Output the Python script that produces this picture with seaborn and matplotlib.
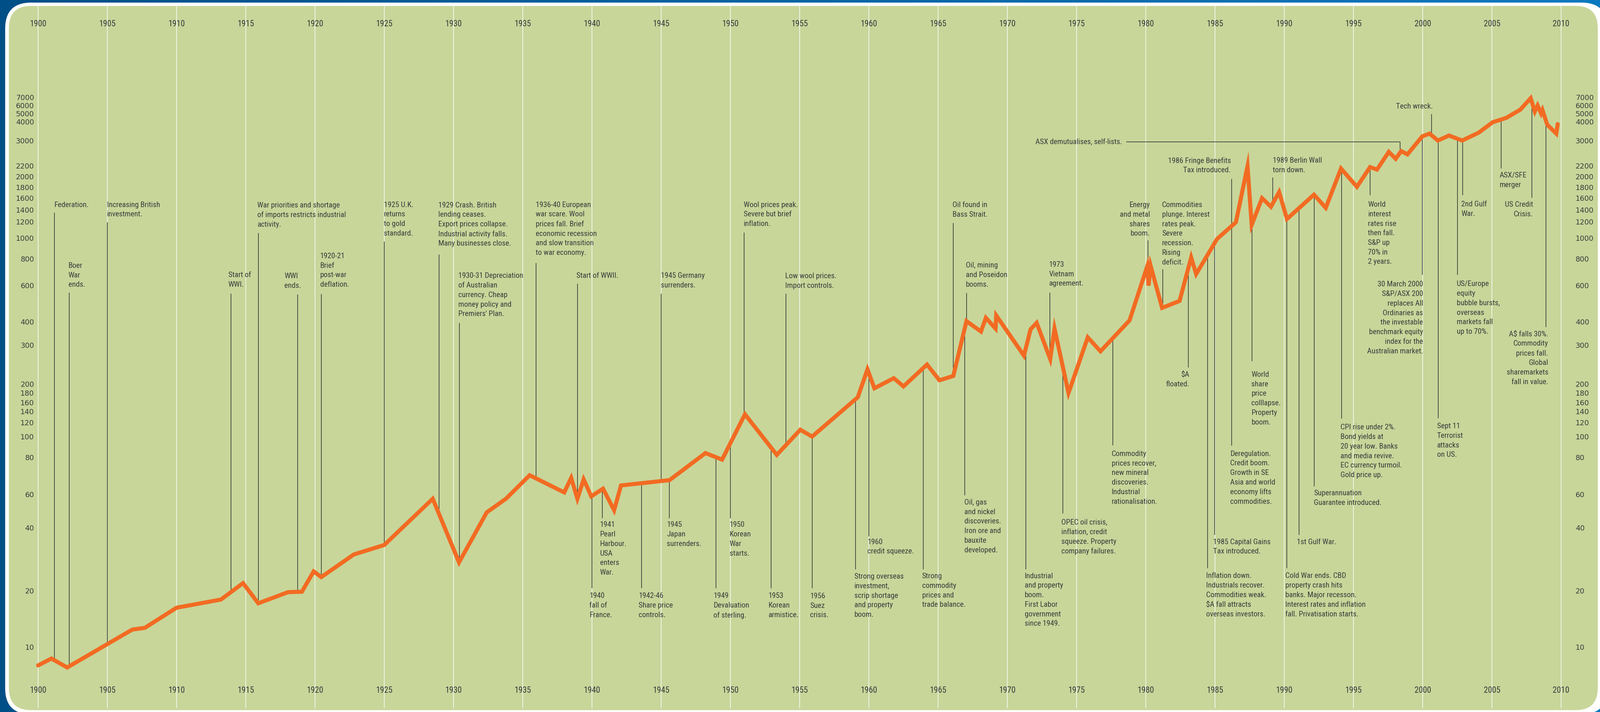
import numpy as np
import pandas as pd
import seaborn as sns
import matplotlib
matplotlib.use('Agg')
import matplotlib.pyplot as plt
from matplotlib import font_manager as fm
from matplotlib.patches import FancyBboxPatch
from matplotlib.colors import LinearSegmentedColormap
from matplotlib.ticker import NullLocator

sns.set_theme(style="white")
plt.rcParams['font.family'] = ['DejaVu Sans']

W, H, DPI = 4322, 1922, 100

# share index (approximate)
years = [1900.0, 1900.96, 1902.1, 1906.8, 1907.7, 1910.0, 1913.2, 1914.8, 1915.9,
         1918.05, 1919.05, 1919.9, 1920.45, 1922.8, 1925.0, 1928.5, 1930.4, 1932.4,
         1933.8, 1935.5, 1938.0, 1938.5, 1938.95, 1939.4, 1939.95, 1940.8, 1941.6,
         1942.1, 1945.6, 1948.2, 1949.4, 1951.05, 1953.35, 1955.05, 1955.9, 1959.2,
         1959.9, 1960.4, 1961.8, 1962.5, 1964.2, 1965.1, 1966.1, 1967.05, 1968.1,
         1968.45, 1969.15, 1969.2, 1971.2, 1971.68, 1972.12, 1973.1, 1973.41,
         1974.42, 1975.81, 1976.73, 1978.83, 1980.1, 1980.2, 1980.35, 1981.18,
         1982.44, 1983.28, 1983.64, 1985.15, 1986.51, 1987.35, 1987.65, 1988.4,
         1989.04, 1989.63, 1990.2, 1992.15, 1993.0, 1994.1, 1995.25, 1996.2,
         1996.7, 1997.55, 1998.05, 1998.45, 1998.9, 1999.97, 2000.5, 2001.1,
         2001.9, 2002.85, 2004.05, 2005.05, 2006.05, 2007.05, 2007.8, 2008.1,
         2008.3, 2008.55, 2008.65, 2009.0, 2009.65, 2009.75]
index = [8.0, 8.7, 7.8, 12.4, 12.66, 16.2, 17.9, 21.7, 17.1,
         19.6, 19.7, 24.7, 23.2, 29.8, 33.1, 57.0, 27.3, 48.3,
         57.1, 69.7, 61.0, 68.3, 57.0, 67.5, 58.7, 62.8, 49.6,
         64.4, 67.1, 83.9, 78.7, 134.3, 82.3, 109.5, 100.2, 170.2,
         232.5, 189.7, 212, 193.9, 244.4, 207.4, 217, 403.6, 354.6,
         418.6, 368, 430, 268.2, 364.6, 395.4, 258.5, 368,
         179.4, 329.6, 280.6, 407, 735, 600, 741, 468,
         505.5, 809.7, 678.7, 988, 1190, 2189, 1156, 1600,
         1453, 1707, 1242, 1661, 1435, 2143, 1805, 2171,
         2124, 2604, 2392, 2629, 2525, 3192, 3327, 2995,
         3231, 2995, 3377, 3954, 4428, 5432, 6854, 5210,
         5960, 5000, 5387, 3808, 3327, 3846]

# the printed, irregular value scale: tick values and the page row they sit on
tick_vals = [10, 20, 40, 60, 80, 100, 120, 140, 160, 180, 200, 300, 400, 600, 800,
             1000, 1200, 1400, 1600, 1800, 2000, 2200, 3000, 4000, 5000, 6000, 7000]
tick_rows = [1747, 1594, 1425, 1335, 1235, 1179, 1141, 1110, 1086, 1060, 1036, 931, 869,
             771, 698, 642, 598, 567, 535, 505, 476, 447, 379, 328, 306, 284, 262]
year_ticks = list(range(1900, 2011, 5))

# (event year, label, text x in years, first text row, connector end row, align)
events = [
    (1901.17, "Federation.", 1901.15, 552.5, 574, "left"),
    (1902.24, "Boer\nWar\nends.", 1902.18, 716.8, 790, "left"),
    (1905.0, "Increasing British\ninvestment.", 1904.96, 552.5, 600, "left"),
    (1913.92, "Start of\nWWI.", 1913.73, 742, 793, "left"),
    (1915.9, "War priorities and shortage\nof imports restricts industrial\nactivity.", 1915.84, 553.6, 629, "left"),
    (1918.74, "WWI\nends.", 1917.78, 745, 795, "left"),
    (1920.45, "1920-21\nBrief\npost-war\ndeflation.", 1920.37, 691, 794, "left"),
    (1925.0, "1925 U.K.\nreturns\nto gold\nstandard.", 1924.96, 552.5, 652, "left"),
    (1928.95, "1929 Crash. British\nlending ceases.\nExport prices collapse.\nIndustrial activity falls.\nMany businesses close.", 1928.91, 553.6, 687, "left"),
    (1930.42, "1930-31 Depreciation\nof Australian\ncurrency. Cheap\nmoney policy and\nPremiers' Plan.", 1930.36, 744.4, 872, "left"),
    (1935.97, "1936-40 European\nwar scare. Wool\nprices fall. Brief\neconomic recession\nand slow transition\nto war economy.", 1935.93, 552.6, 710, "left"),
    (1938.95, "Start of WWII.", 1938.89, 744.4, 766, "left"),
    (1945.0, "1945 Germany\nsurrenders.", 1944.96, 744.4, 793, "left"),
    (1951.0, "Wool prices peak.\nSevere but brief\ninflation.", 1950.95, 552.6, 627.5, "left"),
    (1954.0, "Low wool prices.\nImport controls.", 1953.97, 745.4, 793, "left"),
    (1940.0, "1940\nfall of\nFrance.", 1939.81, 1608.4, 1587.7, "left"),
    (1940.74, "1941\nPearl\nHarbour.\nUSA\nenters\nWar.", 1940.58, 1416.4, 1399, "left"),
    (1943.57, "1942-46\nShare price\ncontrols.", 1943.38, 1608.4, 1587.7, "left"),
    (1945.6, "1945\nJapan\nsurrenders.", 1945.41, 1416.4, 1399, "left"),
    (1948.97, "1949\nDevaluation\nof sterling.", 1948.78, 1608.4, 1587.7, "left"),
    (1950.0, "1950\nKorean\nWar\nstarts.", 1949.94, 1416.4, 1399, "left"),
    (1952.94, "1953\nKorean\narmistice.", 1952.75, 1608.4, 1587.7, "left"),
    (1955.92, "1956\nSuez\ncrisis.", 1955.75, 1608.9, 1588, "left"),
    (1960.0, "1960\ncredit squeeze.", 1959.89, 1462.7, 1448, "left"),
    (1959.04, "Strong overseas\ninvestment,\nscrip shortage\nand property\nboom.", 1958.95, 1556.2, 1536.5, "left"),
    (1963.93, "Strong\ncommodity\nprices and\ntrade balance.", 1963.84, 1555.2, 1536.5, "left"),
    (1966.93, "Oil, gas\nand nickel\ndiscoveries.\nIron ore and\nbauxite\ndeveloped.", 1966.89, 1355.8, 1337, "left"),
    (1971.33, "Industrial\nand property\nboom.\nFirst Labor\ngovernment\nsince 1949.", 1971.25, 1554.7, 1536.5, "left"),
    (1974.0, "OPEC oil crisis,\ninflation, credit\nsqueeze. Property\ncompany failures.", 1973.91, 1410, 1386, "left"),
    (1977.62, "Commodity\nprices recover,\nnew mineral\ndiscoveries.\nIndustrial\nrationalisation.", 1977.53, 1224.8, 1202, "left"),
    (1966.1, "Oil found in\nBass Strait.", 1966.05, 553, 601.5, "left"),
    (1967.07, "Oil, mining\nand Poseidon\nbooms.", 1967.0, 716.3, 791, "left"),
    (1973.07, "1973\nVietnam\nagreement.", 1973.01, 713.8, 790, "left"),
    (1980.17, "Energy\nand metal\nshares\nboom.", 1980.3, 553, 649, "right"),
    (1981.22, "Commodities\nplunge. Interest\nrates peak.\nSevere\nrecession.\nRising\ndeficit.", 1981.17, 553, 726.5, "left"),
    (1983.08, "$A\nfloated.", 1983.16, 1010.8, 991.5, "right"),
    (1986.19, "1986 Fringe Benefits\nTax introduced.", 1986.14, 433, 483, "right"),
    (1989.17, "1989 Berlin Wall\ntorn down.", 1989.17, 433, 478.6, "left"),
    (2000.63, "Tech wreck.", 1998.08, 286.7, 308, "left"),
    (1996.19, "World\ninterest\nrates rise\nthen fall.\nS&P up\n70% in\n2 years.", 1996.05, 552, 526.5, "left"),
    (1999.97, "30 March 2000\nS&P/ASX 200\nreplaces All\nOrdinaries as\nthe investable\nbenchmark equity\nindex for the\nAustralian market.", 2000.03, 767.3, 741.8, "right"),
    (2002.9, "2nd Gulf\nWar.", 2002.78, 551, 526.5, "left"),
    (2002.52, "US/Europe\nequity\nbubble bursts,\noverseas\nmarkets fall\nup to 70%.", 2002.46, 766.3, 741.8, "left"),
    (2005.68, "ASX/SFE\nmerger", 2005.56, 473, 455, "left"),
    (2007.88, "US Credit\nCrisis.", 2007.98, 552, 534, "right"),
    (2008.9, "A$ falls 30%.\nCommodity\nprices fall.\nGlobal\nsharemarkets\nfall in value.", 2009.07, 901.5, 882.6, "right"),
    (2001.13, "Sept 11\nTerrorist\nattacks\non US.", 2001.03, 1150.2, 1128.5, "left"),
    (1987.67, "World\nshare\nprice\ncolllapse.\nProperty\nboom.", 1987.63, 1010.8, 974.8, "left"),
    (1986.2, "Deregulation.\nCredit boom.\nGrowth in SE\nAsia and world\neconomy lifts\ncommodities.", 1986.1, 1224.6, 1203, "left"),
    (1984.98, "1985 Capital Gains\nTax introduced.", 1984.86, 1462.7, 1444, "left"),
    (1984.47, "Inflation down.\nIndustrials recover.\nCommodities weak.\n$A fall attracts\noverseas investors.", 1984.37, 1554.5, 1534, "left"),
    (1990.18, "Cold War ends. CBD\nproperty crash hits\nbanks. Major recesson.\nInterest rates and inflation\nfall. Privatisation starts.", 1990.08, 1554.5, 1534, "left"),
    (1991.06, "1st Gulf War.", 1990.9, 1462.7, 1444, "left"),
    (1992.17, "Superannuation\nGuarantee introduced.", 1992.13, 1331.3, 1312.7, "left"),
    (1994.14, "CPI rise under 2%.\nBond yields at\n20 year low. Banks\nand media revive.\nEC currency turmoil.\nGold price up.", 1994.06, 1153.3, 1129.8, "left"),
]
# bracket-style callout: label, text right edge, row, start of rule, event year
asx_label, asx_x, asx_row, asx_rule0, asx_year = "ASX demutualises, self-lists.", 1978.3, 382.6, 1978.6, 1998.38

GREEN = "#c8d69a"
ORANGE = "#f26b22"
INK = "#3a3a3a"
RULE = "#2e2e2e"


def condensed_font(size):
    names = {f.name for f in fm.fontManager.ttflist}
    for fam in ["Liberation Sans Narrow", "Roboto Condensed", "Open Sans Condensed",
                "Noto Sans Condensed", "DejaVu Sans Condensed"]:
        if fam in names:
            return fm.FontProperties(family=fam, size=size)
    for f in fm.fontManager.ttflist:
        if f.name in ("Noto Sans", "DejaVu Sans", "Open Sans", "Roboto") \
                and str(f.stretch) in ("condensed", "semi-condensed") \
                and f.style == "normal" and f.weight in (400, "normal", "regular"):
            return fm.FontProperties(fname=f.fname, size=size)
    return fm.FontProperties(family="Roboto" if "Roboto" in names else "DejaVu Sans", size=size)


note_fp = condensed_font(15)
year_fp = condensed_font(16.5)

# scale: log-value -> page row, piecewise through the printed ticks
lv = np.log10(np.r_[1.0, tick_vals, 1e5])
rv = -np.r_[2255.0, tick_rows, -118.0]


def fwd(v):
    v = np.clip(np.asarray(v, dtype=float), 1e-6, None)
    return np.interp(np.log10(v), lv, rv)


def inv(t):
    return 10 ** np.interp(np.asarray(t, dtype=float), rv, lv)


def row(r):
    return inv(-r)


fig = plt.figure(figsize=(W / DPI, H / DPI), dpi=DPI)

# backdrop: blue frame, white rim, green panel
bg = fig.add_axes([0, 0, 1, 1], zorder=0)
blue = LinearSegmentedColormap.from_list("frame", ["#004f87", "#0a79bf"])
bg.imshow(np.linspace(0, 1, 256)[None, :], extent=[0, W, H, 0], aspect="auto", cmap=blue)
bg.add_patch(FancyBboxPatch((14, 7), W + 20 - 14, H + 6 - 7,
                            boxstyle="round,pad=0,rounding_size=70", fc="white", ec="none"))
bg.add_patch(FancyBboxPatch((24, 16), W - 6 - 24, H - 5 - 16,
                            boxstyle="round,pad=0,rounding_size=60", fc=GREEN, ec="none"))
bg.set_xlim(0, W)
bg.set_ylim(H, 0)
bg.axis("off")

L, R, T, B = 24, 4324, 16, 1912
PX_YR, X1900 = 37.4, 103
ax = fig.add_axes([L / W, 1 - B / H, (R - L) / W, (B - T) / H], zorder=1)
ax.set_facecolor("none")

df = pd.DataFrame({"year": years, "index": index})
sns.lineplot(data=df, x="year", y="index", ax=ax, color=ORANGE, linewidth=7.9,
             zorder=3, sort=False)
ax.lines[-1].set_solid_joinstyle("miter")

ax.set_yscale("function", functions=(fwd, inv))
ax.set_xlim(1900 + (L - X1900) / PX_YR, 1900 + (R - X1900) / PX_YR)
ax.set_ylim(row(B), row(T))

for s in ax.spines.values():
    s.set_visible(False)
ax.set_xlabel("")
ax.set_ylabel("")

ax.tick_params(axis="x", which="both", top=True, bottom=True, labeltop=True,
               labelbottom=True, length=0, pad=-43, colors=INK)
ax.set_xticks(year_ticks, labels=[str(y) for y in year_ticks], fontproperties=year_fp, color=INK)
ax.tick_params(axis="y", which="both", left=True, right=True, labelleft=True,
               labelright=True, length=0, pad=-49, colors=INK)
ax.set_yticks(tick_vals, labels=[str(v) for v in tick_vals], fontsize=14,
              family="DejaVu Sans", color=INK)
ax.yaxis.set_minor_locator(NullLocator())
ax.grid(axis="x", color="white", linewidth=1.1)
ax.grid(axis="y", visible=False)
ax.set_axisbelow(True)

line_t = fwd(index)


def on_line(yr):
    return inv(np.interp(yr, years, line_t))


for ev, label, tx, r0, r_end, ha in events:
    ax.plot([ev, ev], [row(r_end), on_line(ev)], color=RULE, lw=1.2, zorder=2,
            solid_capstyle="butt")
    ax.text(tx, row(r0 - 9), label, ha=ha, va="top", fontproperties=note_fp,
            color=INK, linespacing=1.45, zorder=4)

ax.text(asx_x, row(asx_row - 9), asx_label, ha="right", va="top", fontproperties=note_fp,
        color=INK, zorder=4)
ax.plot([asx_rule0, asx_year, asx_year], [row(asx_row), row(asx_row), on_line(asx_year)],
        color=RULE, lw=1.2, zorder=2)

fig.savefig("out.png", dpi=DPI)
